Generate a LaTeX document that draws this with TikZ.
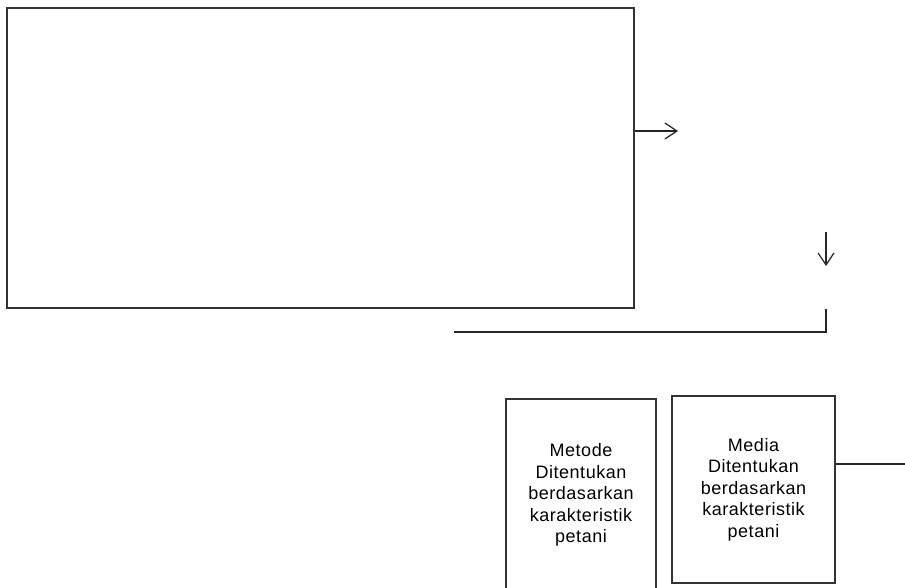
\documentclass[tikz,border=0pt]{standalone}
\usepackage{fontspec}
\newfontfamily\lblfont{Liberation Sans}[LetterSpace=3]
\usetikzlibrary{arrows.meta}
\begin{document}
\begin{tikzpicture}[x=1pt,y=-1pt,
  boxline/.style={draw=black!80,line width=1.1pt},
  card/.style={boxline,align=center,inner sep=0pt,font=\lblfont\fontsize{18}{21.5}\selectfont,text=black},
  conn/.style={draw=black!85,line width=1.2pt},
  arr/.style={conn,-{Straight Barb[length=12pt,width=16pt,line width=1.2pt]}}]
\useasboundingbox (0,0) rectangle (905,588);
\node[boxline,minimum width=627pt,minimum height=300pt,inner sep=0pt] (big) at (320.5,158) {};
\coordinate (aend) at (678,131);
\draw[arr] (big.east |- aend) -- (aend);
\coordinate (dtop) at (826,232);
\coordinate (dbot) at (826,266);
\draw[arr] (dtop) -- (dbot);
\coordinate (ltop) at (826,309);
\coordinate (lcorner) at (826,332);
\coordinate (lend) at (454,332);
\draw[conn] (ltop) -- (lcorner) -- (lend);
\node[card,minimum width=150pt,minimum height=192pt] (metode) at (581,495) {Metode\\Ditentukan\\berdasarkan\\karakteristik\\petani};
\node[card,minimum width=163pt,minimum height=187pt] (media) at (753.5,489.5) {Media\\Ditentukan\\berdasarkan\\karakteristik\\petani};
\coordinate (rend) at (905,464);
\draw[conn] (media.east |- rend) -- (rend);
\end{tikzpicture}
\end{document}
